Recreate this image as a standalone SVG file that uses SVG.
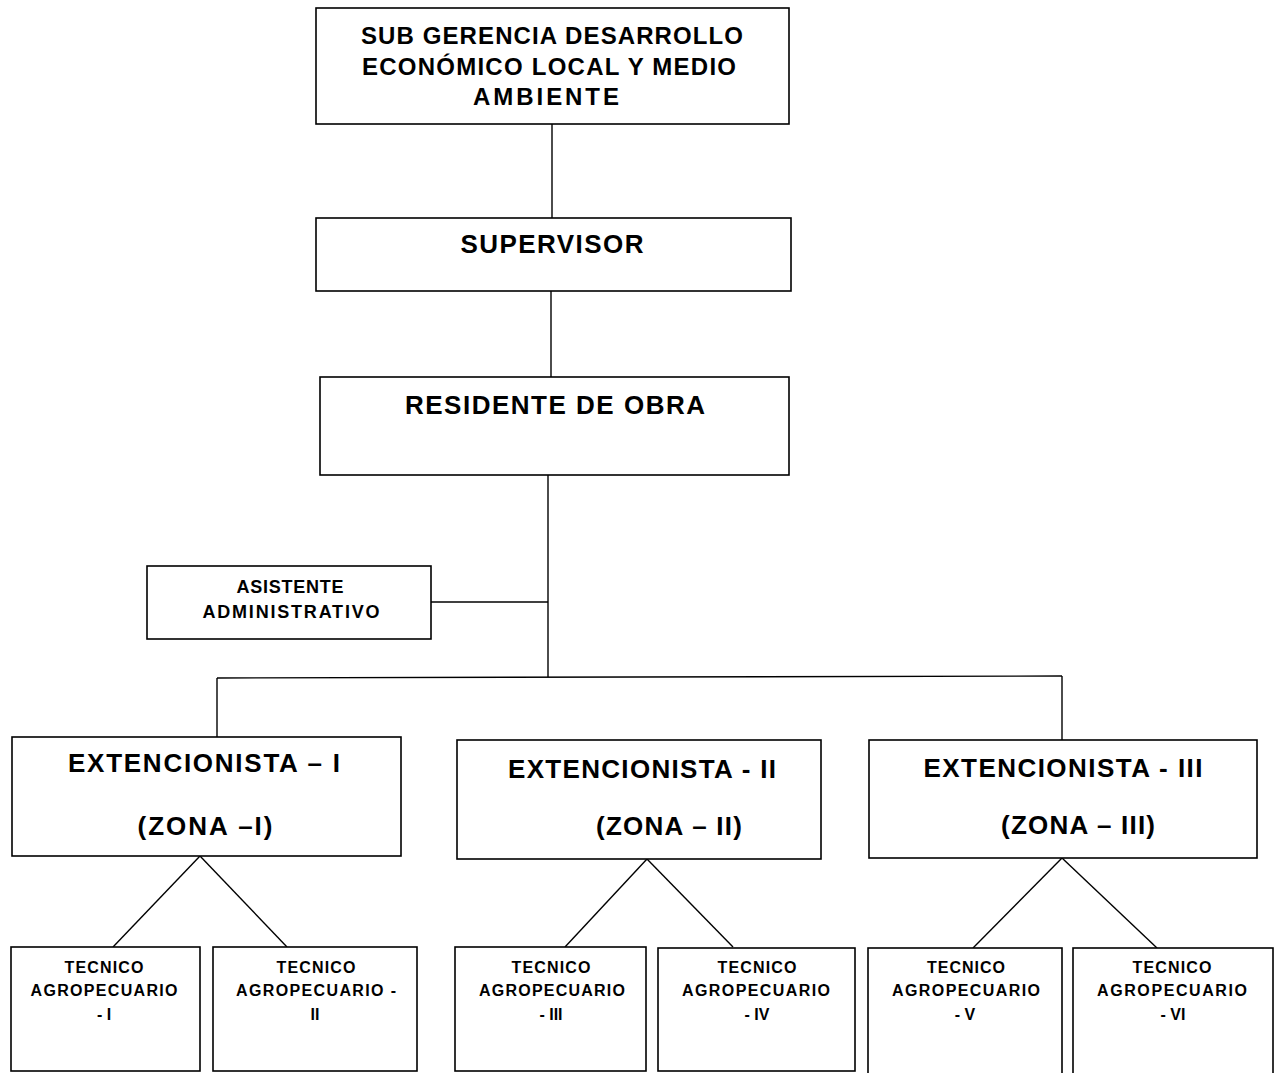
<svg xmlns="http://www.w3.org/2000/svg" width="1279" height="1073" viewBox="0 0 1279 1073">
<style>
.box{fill:#fff;stroke:#000;stroke-width:1.6}
.ln{stroke:#000;stroke-width:1.4;fill:none}
text{font-family:"Liberation Sans",Arial,sans-serif;font-weight:bold;fill:#000;text-anchor:middle}
.t22{font-size:24px}
.t24{font-size:26px}
.t16{font-size:18px}
.t15{font-size:16px}
</style>
<rect width="1279" height="1073" fill="#fff"/>
<g id="connectors">
<line class="ln" x1="552" y1="124" x2="552" y2="218"/>
<line class="ln" x1="551" y1="291" x2="551" y2="377"/>
<line class="ln" x1="548" y1="475" x2="548" y2="677"/>
<line class="ln" x1="431" y1="602" x2="548" y2="602"/>
<line class="ln" x1="217" y1="678" x2="1062" y2="676"/>
<line class="ln" x1="217" y1="678" x2="217" y2="737"/>
<line class="ln" x1="1062" y1="676" x2="1062" y2="740"/>
<line class="ln" x1="200" y1="856" x2="113" y2="947"/>
<line class="ln" x1="200" y1="856" x2="287" y2="947"/>
<line class="ln" x1="647" y1="859" x2="565" y2="947"/>
<line class="ln" x1="647" y1="859" x2="733" y2="947"/>
<line class="ln" x1="1062" y1="858" x2="973" y2="948"/>
<line class="ln" x1="1062" y1="858" x2="1157" y2="948"/>
</g>
<g id="sub-gerencia">
<rect class="box" x="316" y="8" width="473" height="116"/>
<text class="t22" x="552" y="44" textLength="382" lengthAdjust="spacing">SUB GERENCIA DESARROLLO</text>
<text class="t22" x="549" y="75" textLength="374" lengthAdjust="spacing">ECONÓMICO LOCAL Y MEDIO</text>
<text class="t22" x="546" y="105" textLength="146" lengthAdjust="spacing">AMBIENTE</text>
</g>
<g id="supervisor">
<rect class="box" x="316" y="218" width="475" height="73"/>
<text class="t24" x="552" y="253" textLength="183" lengthAdjust="spacing">SUPERVISOR</text>
</g>
<g id="residente">
<rect class="box" x="320" y="377" width="469" height="98"/>
<text class="t24" x="555" y="414" textLength="300" lengthAdjust="spacing">RESIDENTE DE OBRA</text>
</g>
<g id="asistente">
<rect class="box" x="147" y="566" width="284" height="73"/>
<text class="t16" x="290" y="593" textLength="107" lengthAdjust="spacing">ASISTENTE</text>
<text class="t16" x="291" y="618" textLength="177" lengthAdjust="spacing">ADMINISTRATIVO</text>
</g>
<g id="extencionista-1">
<rect class="box" x="12" y="737" width="389" height="119"/>
<text class="t24" x="204" y="772" textLength="272" lengthAdjust="spacing">EXTENCIONISTA – I</text>
<text class="t24" x="205" y="835" textLength="135" lengthAdjust="spacing">(ZONA –I)</text>
</g>
<g id="extencionista-2">
<rect class="box" x="457" y="740" width="364" height="119"/>
<text class="t24" x="642" y="778" textLength="268" lengthAdjust="spacing">EXTENCIONISTA - II</text>
<text class="t24" x="669" y="835" textLength="146" lengthAdjust="spacing">(ZONA – II)</text>
</g>
<g id="extencionista-3">
<rect class="box" x="869" y="740" width="388" height="118"/>
<text class="t24" x="1063" y="777" textLength="279" lengthAdjust="spacing">EXTENCIONISTA - III</text>
<text class="t24" x="1078" y="834" textLength="154" lengthAdjust="spacing">(ZONA – III)</text>
</g>
<g id="tecnico-1">
<rect class="box" x="11" y="947" width="189" height="124"/>
<text class="t15" x="104" y="973" textLength="79" lengthAdjust="spacing">TECNICO</text>
<text class="t15" x="104" y="996" textLength="147" lengthAdjust="spacing">AGROPECUARIO</text>
<text class="t15" x="104" y="1020">- I</text>
</g>
<g id="tecnico-2">
<rect class="box" x="213" y="947" width="204" height="124"/>
<text class="t15" x="316" y="973" textLength="79" lengthAdjust="spacing">TECNICO</text>
<text class="t15" x="316" y="996" textLength="160" lengthAdjust="spacing">AGROPECUARIO -</text>
<text class="t15" x="315" y="1020">II</text>
</g>
<g id="tecnico-3">
<rect class="box" x="455" y="947" width="191" height="124"/>
<text class="t15" x="551" y="973" textLength="79" lengthAdjust="spacing">TECNICO</text>
<text class="t15" x="552" y="996" textLength="146" lengthAdjust="spacing">AGROPECUARIO</text>
<text class="t15" x="551" y="1020">- III</text>
</g>
<g id="tecnico-4">
<rect class="box" x="658" y="948" width="197" height="123"/>
<text class="t15" x="757" y="973" textLength="79" lengthAdjust="spacing">TECNICO</text>
<text class="t15" x="756" y="996" textLength="148" lengthAdjust="spacing">AGROPECUARIO</text>
<text class="t15" x="757" y="1020">- IV</text>
</g>
<g id="tecnico-5">
<rect class="box" x="868" y="948" width="194" height="130"/>
<text class="t15" x="966" y="973" textLength="78" lengthAdjust="spacing">TECNICO</text>
<text class="t15" x="966" y="996" textLength="148" lengthAdjust="spacing">AGROPECUARIO</text>
<text class="t15" x="965" y="1020">- V</text>
</g>
<g id="tecnico-6">
<rect class="box" x="1073" y="948" width="200" height="130"/>
<text class="t15" x="1172" y="973" textLength="79" lengthAdjust="spacing">TECNICO</text>
<text class="t15" x="1172" y="996" textLength="150" lengthAdjust="spacing">AGROPECUARIO</text>
<text class="t15" x="1173" y="1020">- VI</text>
</g>
</svg>
